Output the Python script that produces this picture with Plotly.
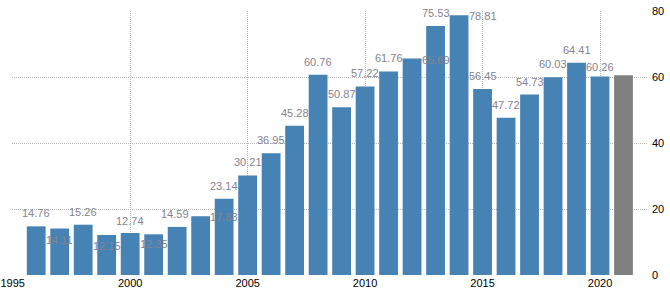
import plotly.graph_objects as go

years = list(range(1996, 2021))
values = [14.76, 14.11, 15.26, 12.15, 12.74, 12.35, 14.59, 17.83, 23.14, 30.21,
          36.95, 45.28, 60.76, 50.87, 57.22, 61.76, 65.69, 75.53, 78.81, 56.45,
          47.72, 54.73, 60.03, 64.41, 60.26]
forecast_year = [2021]
forecast_value = [60.6]
x_ticks = [1995, 2000, 2005, 2010, 2015, 2020]
y_ticks = [0, 20, 40, 60, 80]

# label placement adjustments (layout only): shift in years, shift in px
label_dx = [0] * len(years)
label_dy = [13] * len(years)
for i, (dx, dy) in {1: (0, -11), 3: (0, -11), 5: (0, -10), 6: (-0.08, 13),
                    7: (1, -1), 16: (1, -2), 18: (1, -1), 24: (0, 9),
                    4: (0, 12)}.items():
    label_dx[i] = dx
    label_dy[i] = dy

fig = go.Figure()
fig.add_trace(go.Bar(x=years, y=values, marker_color="#4682B4", width=0.8,
                     marker_line_width=0, hoverinfo="skip"))
fig.add_trace(go.Bar(x=forecast_year, y=forecast_value, marker_color="#808080",
                     width=0.8, marker_line_width=0, hoverinfo="skip"))

for i, (yr, v) in enumerate(zip(years, values)):
    fig.add_annotation(x=yr + label_dx[i], y=v, text=f"{v:.2f}", showarrow=False,
                       yshift=label_dy[i], xanchor="center", yanchor="middle",
                       font=dict(family="Liberation Sans, Arial", size=11, color="#86828f"))

fig.update_layout(
    width=670, height=295,
    margin=dict(l=12, r=23, t=11, b=20, autoexpand=False),
    paper_bgcolor="white", plot_bgcolor="white",
    showlegend=False, barmode="overlay",
    font=dict(family="Liberation Sans, Arial", size=11, color="#000"),
)
grid = dict(showgrid=True, gridcolor="#b8b8b8", griddash="1px,1px", gridwidth=1,
            zeroline=False, showline=False, ticks="", automargin=False,
            tickfont=dict(size=11, color="#000"))
fig.update_xaxes(range=[1994.97, 2022], tickvals=x_ticks, **grid)
fig.update_yaxes(range=[0, 80.1], tickvals=y_ticks, side="right",
                 ticklabelstandoff=4, **grid)

fig.write_html("out.html")
